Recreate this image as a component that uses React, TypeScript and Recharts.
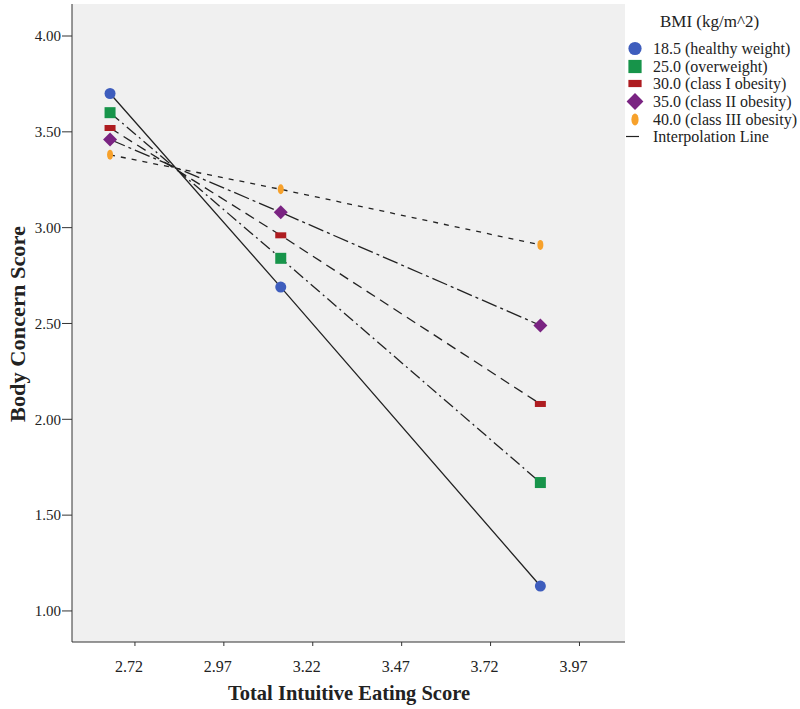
import React from 'react';
import { LineChart, Line, XAxis, YAxis, CartesianGrid, ReferenceArea, Label } from 'recharts';

// Total intuitive eating score at which the model was evaluated
const eatingScores = [2.65, 3.13, 3.86];

// Body concern score per BMI group
const bmiLabels = [
  '18.5 (healthy weight)',
  '25.0 (overweight)',
  '30.0 (class I obesity)',
  '35.0 (class II obesity)',
  '40.0 (class III obesity)',
];
const concernBmi185 = [3.7, 2.69, 1.13];
const concernBmi250 = [3.6, 2.84, 1.67];
const concernBmi300 = [3.52, 2.96, 2.08];
const concernBmi350 = [3.46, 3.08, 2.49];
const concernBmi400 = [3.38, 3.2, 2.91];

const xTicks = [2.72, 2.97, 3.22, 3.47, 3.72, 3.97];
const yTicks = [1.0, 1.5, 2.0, 2.5, 3.0, 3.5, 4.0];

const FONT = '"Liberation Serif", "Times New Roman", serif';

type ShapeKind = 'circle' | 'square' | 'rect' | 'diamond' | 'ellipse';

const series: { name: string; values: number[]; color: string; shape: ShapeKind; dash: string }[] = [
  { name: bmiLabels[0], values: concernBmi185, color: '#3e5dbd', shape: 'circle', dash: '' },
  { name: bmiLabels[1], values: concernBmi250, color: '#17944a', shape: 'square', dash: '12 4 2 4' },
  { name: bmiLabels[2], values: concernBmi300, color: '#ae1c20', shape: 'rect', dash: '10 6' },
  { name: bmiLabels[3], values: concernBmi350, color: '#7a2482', shape: 'diamond', dash: '16 4 3 4' },
  { name: bmiLabels[4], values: concernBmi400, color: '#f7a12b', shape: 'ellipse', dash: '5 6' },
];

function Marker({ kind, cx, cy, color, scale = 1 }: { kind: ShapeKind; cx: number; cy: number; color: string; scale?: number }) {
  const s = scale;
  if (kind === 'circle') return <circle cx={cx} cy={cy} r={5.5 * s} fill={color} />;
  if (kind === 'square') return <rect x={cx - 5.5 * s} y={cy - 5.5 * s} width={11 * s} height={11 * s} fill={color} />;
  if (kind === 'rect') return <rect x={cx - 5.5 * s} y={cy - 3 * s} width={11 * s} height={6 * s} fill={color} />;
  if (kind === 'diamond') {
    const d = 7 * s;
    return <polygon points={`${cx},${cy - d} ${cx + d},${cy} ${cx},${cy + d} ${cx - d},${cy}`} fill={color} />;
  }
  return <ellipse cx={cx} cy={cy} rx={3 * s} ry={5 * s} fill={color} />;
}

function XTick(props: any) {
  const { x, y, payload } = props;
  return (
    <text x={x - 6} y={y} dy={20} textAnchor="middle" fontFamily={FONT} fontSize={16} fill="#222">
      {Number(payload.value).toFixed(2)}
    </text>
  );
}

function XTitle(props: any) {
  const vb = props.viewBox || { x: 72, y: 642, width: 553, height: 67 };
  return (
    <text
      x={349}
      y={vb.y + 58}
      textAnchor="middle"
      textLength={242}
      lengthAdjust="spacingAndGlyphs"
      fontFamily={FONT}
      fontSize={22}
      fontWeight="bold"
      fill="#222"
    >
      Total Intuitive Eating Score
    </text>
  );
}

function YTitle(props: any) {
  const vb = props.viewBox || { x: 0, y: 4, width: 72, height: 638 };
  const cx = vb.x + 25;
  const cy = 324;
  return (
    <text
      x={cx}
      y={cy}
      transform={`rotate(-90, ${cx}, ${cy})`}
      textAnchor="middle"
      textLength={196}
      lengthAdjust="spacingAndGlyphs"
      fontFamily={FONT}
      fontSize={22}
      fontWeight="bold"
      fill="#222"
    >
      Body Concern Score
    </text>
  );
}

function ChartLegend() {
  return (
    <div style={{ position: 'absolute', left: 626, top: 11, width: 174, fontFamily: FONT, color: '#222' }}>
      <div style={{ fontSize: 17, marginLeft: 34, height: 29, lineHeight: '22px' }}>BMI (kg/m^2)</div>
      {series.map((s) => (
        <div key={s.name} style={{ display: 'flex', alignItems: 'center', height: 17.6 }}>
          <svg width={22} height={17} style={{ flex: 'none' }}>
            <Marker kind={s.shape} cx={9} cy={8.5} color={s.color} scale={1.2} />
          </svg>
          <span style={{ fontSize: 16, marginLeft: 5, whiteSpace: 'nowrap', lineHeight: '17px' }}>{s.name}</span>
        </div>
      ))}
      <div style={{ display: 'flex', alignItems: 'center', height: 17.6 }}>
        <svg width={26} height={17} style={{ flex: 'none' }}>
          <line x1={0} y1={8.5} x2={13} y2={8.5} stroke="#222" strokeWidth={1.2} />
        </svg>
        <span style={{ fontSize: 16, marginLeft: 1, whiteSpace: 'nowrap', lineHeight: '17px' }}>Interpolation Line</span>
      </div>
    </div>
  );
}

export default function App() {
  return (
    <div style={{ position: 'absolute', left: 0, top: 0, width: 800, height: 709, background: '#fff' }}>
      <LineChart width={800} height={709} margin={{ top: 4, right: 175, bottom: 0, left: 0 }}>
        <CartesianGrid fill="#f0f0f0" horizontal={false} vertical={false} />
        <XAxis
          type="number"
          dataKey="x"
          domain={[2.543, 4.098]}
          allowDataOverflow
          ticks={xTicks}
          tick={<XTick />}
          tickSize={4}
          tickMargin={6}
          height={67}
          stroke="#333"
        >
          <Label content={<XTitle />} />
        </XAxis>
        <YAxis
          type="number"
          domain={[0.838, 4.167]}
          allowDataOverflow
          ticks={yTicks}
          tickFormatter={(v: number) => v.toFixed(2)}
          tick={{ fontFamily: FONT, fontSize: 15, fill: '#222' }}
          tickSize={10}
          tickMargin={1}
          width={72}
          stroke="#333"
        >
          <Label content={<YTitle />} />
        </YAxis>
        <ReferenceArea fill="none" stroke="#333" strokeWidth={1.2} ifOverflow="extendDomain" />
        {series.map((s) => (
          <Line
            key={s.name}
            name={s.name}
            data={eatingScores.map((x, i) => ({ x, y: s.values[i] }))}
            dataKey="y"
            type="linear"
            stroke="#222"
            strokeWidth={1.3}
            strokeDasharray={s.dash || undefined}
            isAnimationActive={false}
            dot={(p: any) => <Marker key={`${s.name}-${p.index}`} kind={s.shape} cx={p.cx} cy={p.cy} color={s.color} />}
            activeDot={false}
          />
        ))}
      </LineChart>
      <ChartLegend />
    </div>
  );
}
